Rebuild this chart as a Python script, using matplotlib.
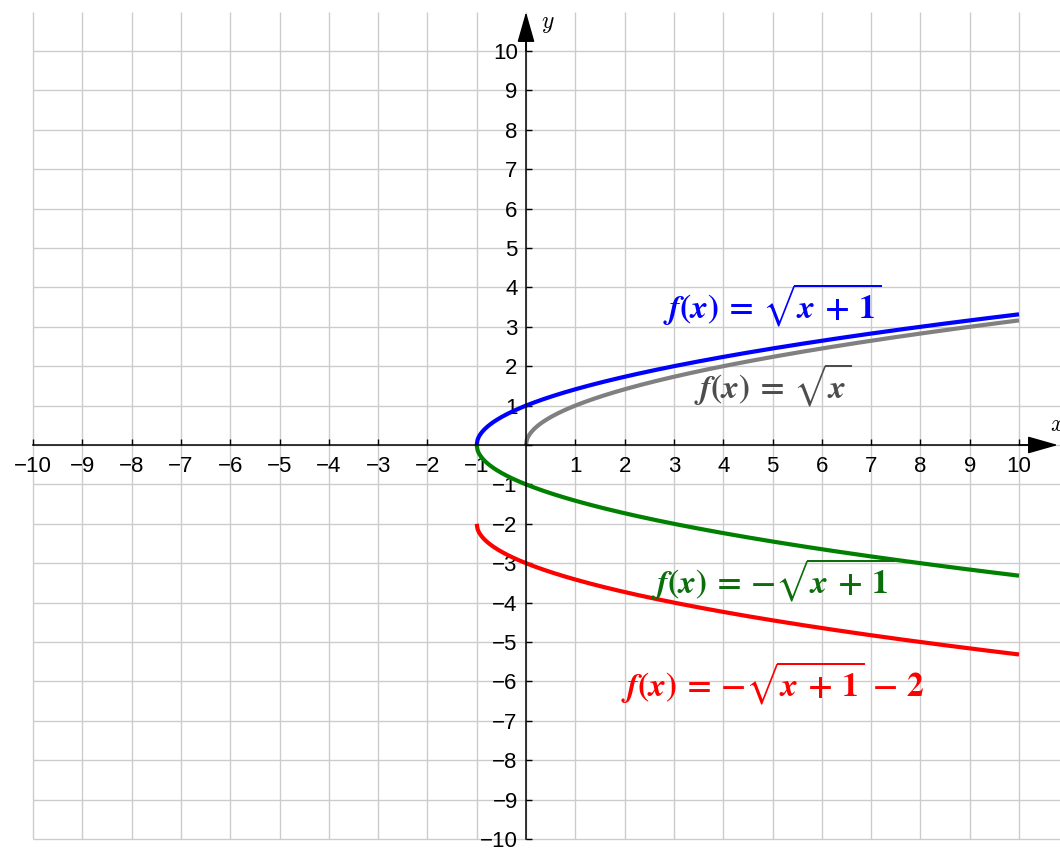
import numpy as np
import matplotlib
matplotlib.use("Agg")
import matplotlib.pyplot as plt

plt.rcParams["font.family"] = ["Liberation Sans", "DejaVu Sans"]
plt.rcParams["mathtext.fontset"] = "custom"
plt.rcParams["mathtext.rm"] = "STIXGeneral:bold"
plt.rcParams["mathtext.it"] = "STIXGeneral:italic:bold"
plt.rcParams["mathtext.bf"] = "STIXGeneral:bold"
plt.rcParams["mathtext.fallback"] = "stix"

# Grid / tick values
x_ticks = list(range(-10, 11))
y_ticks = list(range(-10, 11))
x_tick_labels = [str(v).replace("-", "\u2212") if v != 0 else "" for v in x_ticks]
y_tick_labels = [str(v).replace("-", "\u2212") if v != 0 else "" for v in y_ticks]

# Functions plotted and their labels
curves = [
    ("gray", lambda x: np.sqrt(x), 0.0, r"$f(x)\,=\,\sqrt{x}$", "#4d4d4d", (5.0, 1.5)),
    ("blue", lambda x: np.sqrt(x + 1), -1.0, r"$f(x)\,=\,\sqrt{x\,+\,1}$", "#0000ff", (5.0, 3.55)),
    ("green", lambda x: -np.sqrt(x + 1), -1.0, r"$f(x)\,=\,{-}\sqrt{x\,+\,1}$", "#0b6e0b", (5.0, -3.45)),
    ("red", lambda x: -np.sqrt(x + 1) - 2, -1.0, r"$f(x)\,=\,{-}\sqrt{x\,+\,1}\,-\,2$", "#ff0000", (5.0, -6.05)),
]
curve_colors = {"gray": "#808080", "blue": "#0000ff", "green": "#008000", "red": "#ff0000"}

W, H = 1060, 849
fig = plt.figure(figsize=(W / 100, H / 100), dpi=100)
ax = fig.add_axes([0, 0, 1, 1])

# pixel layout of the coordinate plane
px_per_x, x_origin = 49.3, 526
px_per_y, y_origin = 39.4, 445
ax.set_xlim((0 - x_origin) / px_per_x, (W - x_origin) / px_per_x)
ax.set_ylim((y_origin - H) / px_per_y, (y_origin - 0) / px_per_y)

# grid
grid_kw = dict(color="#cccccc", lw=1.0, zorder=0)
ax.vlines(x_ticks, -10, 11.0, **grid_kw)
ax.hlines(y_ticks, -10, 11.0, **grid_kw)

# axes through the origin
for s in ["top", "right"]:
    ax.spines[s].set_visible(False)
ax.spines["left"].set_position(("data", 0))
ax.spines["bottom"].set_position(("data", 0))
ax.spines["left"].set_bounds(-10, 10.5)
ax.spines["bottom"].set_bounds(-10, 10.4)
for s in ["left", "bottom"]:
    ax.spines[s].set_linewidth(1.1)
    ax.spines[s].set_zorder(3)

ax.set_xticks(x_ticks)
ax.set_xticklabels(x_tick_labels)
ax.set_yticks(y_ticks)
ax.set_yticklabels(y_tick_labels)
ax.tick_params(axis="both", direction="in", length=4.5, width=1.0, labelsize=16)
ax.tick_params(axis="x", pad=8)
ax.tick_params(axis="y", pad=6)

arrow_kw = dict(arrowstyle="-|>,head_length=0.95,head_width=0.27", color="black",
                lw=1.1, mutation_scale=20, shrinkA=0, shrinkB=0)
ax.annotate("", xy=(0, 10.99), xytext=(0, 10.0), arrowprops=arrow_kw, zorder=4)
ax.annotate("", xy=(10.79, 0), xytext=(10.0, 0), arrowprops=arrow_kw, zorder=4)
ax.text(0.45, 10.68, r"$y$", fontsize=17, ha="center", va="center", math_fontfamily="cm")
ax.text(10.78, 0.5, r"$x$", fontsize=17, ha="center", va="center", math_fontfamily="cm")

for key, fn, x_start, label, label_color, (lx, ly) in curves:
    xs = np.linspace(x_start, 10, 600)
    ax.plot(xs, fn(xs), color=curve_colors[key], lw=3.0, zorder=2, solid_capstyle="butt")
    ax.text(lx, ly, label, color=label_color, fontsize=24, ha="center", va="center", zorder=5)

fig.savefig("out.png", dpi=100)
